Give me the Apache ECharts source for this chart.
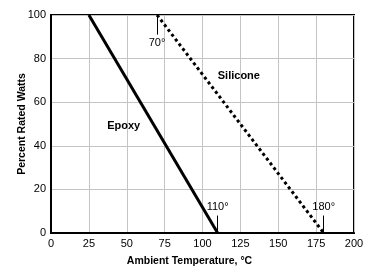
<!DOCTYPE html>
<html>
<head>
<meta charset="utf-8">
<script src="https://cdn.jsdelivr.net/npm/echarts@6/dist/echarts.min.js"></script>
<style>
  html, body { margin: 0; padding: 0; background: #fff; }
  #chart { width: 370px; height: 268px; }
</style>
</head>
<body>
<div id="chart"></div>
<script>
// derating curves: [temperature, percent watts]
var epoxy = [[25, 100], [110, 0]];
var silicone = [[70, 100], [180, 0]];
var xTicks = [0, 25, 50, 75, 100, 125, 150, 175, 200];
var yTicks = [0, 20, 40, 60, 80, 100];

var font = "'Liberation Sans', Arial, sans-serif";

// small vertical leader line with a label at its end
function leader(x, y0, y1, text) {
  return [
    { coord: [x, y0] },
    { coord: [x, y1], label: { show: true, formatter: text, position: "end", distance: 3 } }
  ];
}

var myChart = echarts.init(document.getElementById("chart"), null, { renderer: "canvas" });
var option = {
  animation: false,
  grid: {
    left: 51, right: 16, top: 15, bottom: 35, outerBoundsMode: "none",
    show: true, borderColor: "#000", borderWidth: 2
  },
  xAxis: {
    type: "value", min: 0, max: 200, interval: 25,
    name: "Ambient Temperature, °C", nameLocation: "middle", nameGap: 23,
    nameTextStyle: { fontFamily: font, fontWeight: "bold", fontSize: 10.5, color: "#000", padding: [0, 26, 0, 0] },
    axisLine: { lineStyle: { color: "#000", width: 2 } },
    axisTick: { show: false },
    axisLabel: { fontFamily: font, fontSize: 11, color: "#000", margin: 5 },
    splitLine: { lineStyle: { color: "#c4c4c4", width: 1 } }
  },
  yAxis: {
    type: "value", min: 0, max: 100, interval: 20,
    name: "Percent Rated Watts", nameLocation: "middle", nameGap: 23, nameMoveOverlap: false,
    nameTextStyle: { fontFamily: font, fontWeight: "bold", fontSize: 10.5, color: "#000" },
    axisLine: { show: true, lineStyle: { color: "#000", width: 2 } },
    axisTick: { show: false },
    axisLabel: { fontFamily: font, fontSize: 11, color: "#000", margin: 5 },
    splitLine: { lineStyle: { color: "#c4c4c4", width: 1 } }
  },
  series: [
    {
      name: "Epoxy", type: "line", data: epoxy, symbol: "none",
      lineStyle: { color: "#000", width: 3 },
      markLine: {
        silent: true, symbol: "none",
        lineStyle: { color: "#000", width: 1, type: "solid" },
        label: { fontFamily: font, fontSize: 11, color: "#000" },
        data: [leader(110, 0, 8, "110°")]
      },
      markPoint: {
        symbolSize: 0,
        label: { show: true, fontFamily: font, fontSize: 11, fontWeight: "bold", color: "#000" },
        data: [{ coord: [48, 49], value: "Epoxy", label: { formatter: "Epoxy" } }]
      }
    },
    {
      name: "Silicone", type: "line", data: silicone, symbol: "none",
      lineStyle: { color: "#000", width: 3, type: [3, 3] },
      markLine: {
        silent: true, symbol: "none",
        lineStyle: { color: "#000", width: 1, type: "solid" },
        label: { fontFamily: font, fontSize: 11, color: "#000" },
        data: [leader(70, 100, 91, "70°"), leader(180, 0, 8, "180°")]
      },
      markPoint: {
        symbolSize: 0,
        label: { show: true, fontFamily: font, fontSize: 11, fontWeight: "bold", color: "#000" },
        data: [{ coord: [124, 72], value: "Silicone", label: { formatter: "Silicone" } }]
      }
    }
  ]
};
myChart.setOption(option);
</script>
</body>
</html>
